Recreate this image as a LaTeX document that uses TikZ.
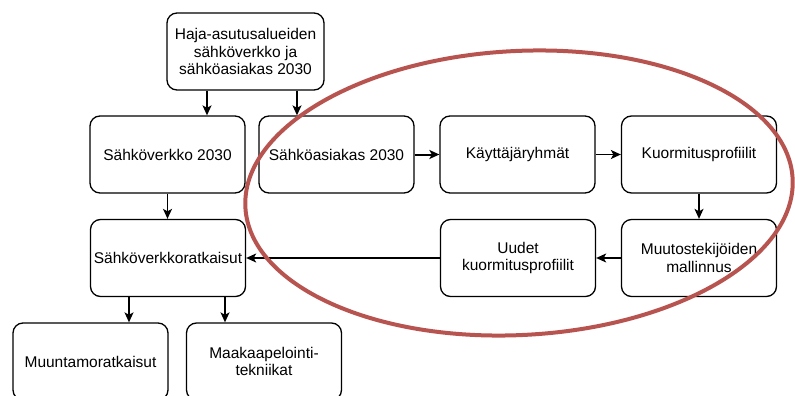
\documentclass[tikz,border=0pt]{standalone}
\usepackage{fontspec}
\setmainfont{Liberation Sans}
\usetikzlibrary{arrows.meta}
\definecolor{loopred}{HTML}{B85450}

\begin{document}
\begin{tikzpicture}[x=1pt, y=-1pt,
  box/.style={draw, line width=1.3pt, rounded corners=10pt, minimum width=155pt,
    minimum height=77pt, align=center, inner sep=2pt,
    font=\fontsize{15.5}{17.8}\selectfont},
  arr/.style={-{Stealth[length=10pt, width=9pt, inset=2.5pt]}, line width=1.3pt}]
  \clip (0,0) rectangle (795,396);

  % Top level
  \node[box, minimum width=157pt] (haja) at (245.5,51.5) {Haja-asutusalueiden\\sähköverkko ja\\sähköasiakas 2030};

  % Second row
  \node[box] (verkko) at (167.5,154.5) {Sähköverkko 2030};
  \node[box] (asiakas) at (336.5,154.5) {Sähköasiakas 2030};
  \node[box] (ryhmat) at (517.5,154.5) {Käyttäjäryhmät};
  \node[box] (profiilit) at (699,154.5) {Kuormitusprofiilit};

  % Third row
  \node[box] (ratkaisut) at (168,258) {Sähköverkkoratkaisut};
  \node[box] (uudet) at (518,258) {Uudet\\kuormitusprofiilit};
  \node[box] (muutos) at (699,258) {Muutostekijöiden\\mallinnus};

  % Fourth row, cut off at the bottom
  \node[box] (muuntamo) at (90.5,361.5) {Muuntamoratkaisut};
  \node[box] (kaapeli) at (264,361.5) {Maakaapelointi-\\tekniikat};

  % Connectors
  \draw[arr] ([xshift=-38.5pt]haja.south) -- ([xshift=-38.5pt]haja.south |- verkko.north);
  \draw[arr] ([xshift=51.5pt]haja.south) -- ([xshift=51.5pt]haja.south |- asiakas.north);
  \draw[arr, line width=2pt] (asiakas) -- (ryhmat);
  \draw[arr] (ryhmat) -- (profiilit);
  \draw[arr] (profiilit) -- (muutos);
  \draw[arr] (muutos) -- (uudet);
  \draw[arr] (uudet) -- (ratkaisut);
  \draw[arr] (verkko.south) -- (verkko.south |- ratkaisut.north);
  \draw[arr] ([xshift=-39pt]ratkaisut.south) -- ([xshift=-39pt]ratkaisut.south |- muuntamo.north);
  \draw[arr] ([xshift=57pt]ratkaisut.south) -- ([xshift=57pt]ratkaisut.south |- kaapeli.north);

  % Highlight of the customer side
  \draw[loopred, line width=4pt] (519,193) ellipse [x radius=274, y radius=142, rotate=3];
\end{tikzpicture}
\end{document}
